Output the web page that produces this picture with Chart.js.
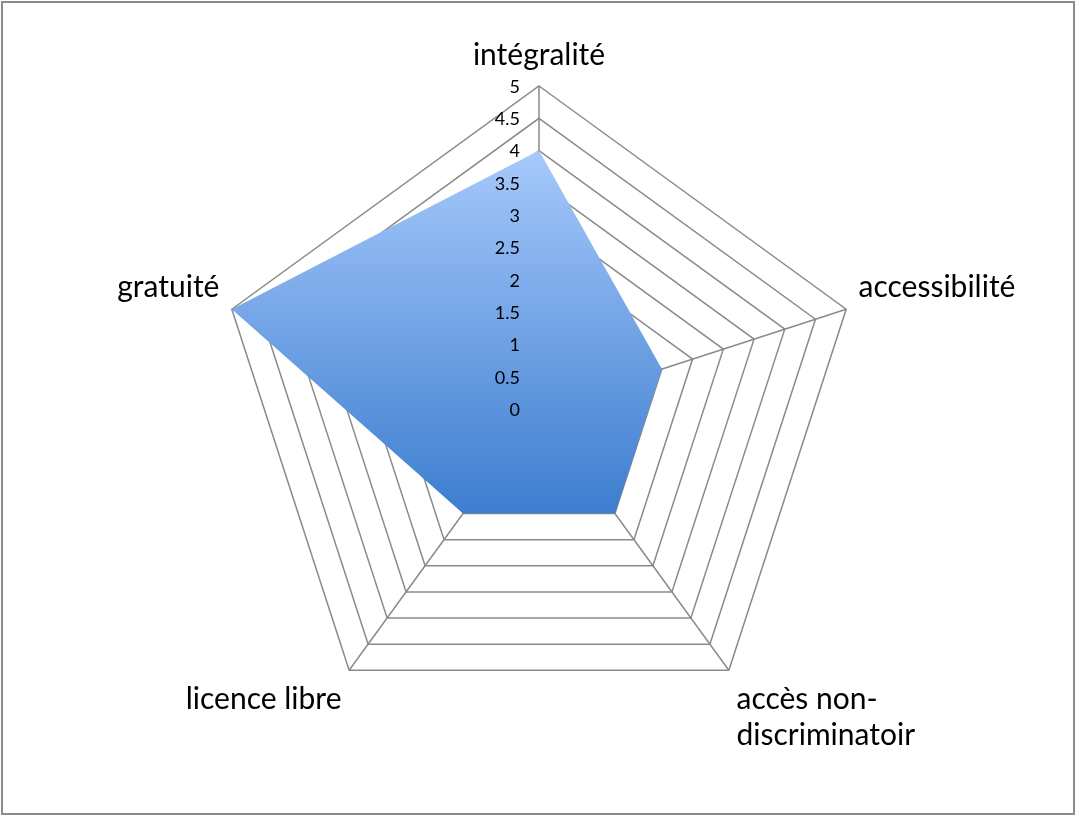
<!DOCTYPE html>
<html><head><meta charset="utf-8">
<script src="https://cdn.jsdelivr.net/npm/chart.js@4.4.1/dist/chart.umd.min.js"></script>
<style>
html,body{margin:0;padding:0;background:#fff;}
#wrap{position:absolute;left:0;top:0;width:1076px;height:816px;}
#frame{position:absolute;left:1px;top:1px;width:1070px;height:810px;border:2px solid #8c8c8c;pointer-events:none;}
</style></head>
<body>
<div id="wrap"><canvas id="c" width="1076" height="816"></canvas></div>
<div id="frame"></div>
<script>
const categories = ['intégralité', 'accessibilité', ['accès non-', 'discriminatoir'], 'licence libre', 'gratuité'];
const values = [4, 2, 2, 2, 5];
const tickMin = 0, tickMax = 5, tickStep = 0.5;

const gridColor = '#8a8a8a';

const tickLabelPlugin = {
  id: 'leftTicks',
  afterDraw(chart) {
    const s = chart.scales.r, ctx = chart.ctx;
    ctx.save();
    ctx.font = '18px Lato, "Open Sans", sans-serif';
    ctx.fillStyle = '#000';
    ctx.textAlign = 'right';
    ctx.textBaseline = 'middle';
    s.ticks.forEach(t => {
      const d = s.getDistanceFromCenterForValue(t.value);
      ctx.fillText(String(t.value), s.xCenter - 19, s.yCenter - d + 1);
    });
    ctx.restore();
  }
};
const shadowPlugin = {
  id: 'shadow',
  beforeDatasetDraw(chart) {
    const ctx = chart.ctx;
    ctx.save();
    ctx.shadowColor = 'rgba(0,0,0,0.35)';
    ctx.shadowBlur = 5;
    ctx.shadowOffsetX = 2;
    ctx.shadowOffsetY = 3;
  },
  afterDatasetDraw(chart) { chart.ctx.restore(); }
};

new Chart(document.getElementById('c'), {
  type: 'radar',
  data: {
    labels: categories,
    datasets: [{
      data: values,
      fill: true,
      borderWidth: 0,
      borderColor: 'rgba(0,0,0,0)',
      pointRadius: 0,
      backgroundColor(ctx) {
        const chart = ctx.chart, s = chart.scales.r;
        if (!s || !s.drawingArea) return '#6fa0e6';
        const g = chart.ctx.createLinearGradient(0, s.yCenter - s.drawingArea * 0.8, 0, s.yCenter + s.drawingArea * 0.33);
        g.addColorStop(0, '#a6c9fb');
        g.addColorStop(1, '#3c7dcf');
        return g;
      }
    }]
  },
  options: {
    responsive: false,
    animation: false,
    layout: { padding: { top: 20, bottom: 52, left: 2, right: 0 } },
    plugins: { legend: { display: false }, tooltip: { enabled: false } },
    scales: {
      r: {
        min: tickMin, max: tickMax,
        ticks: { stepSize: tickStep, display: false },
        grid: { color: gridColor, lineWidth: 1.5 },
        angleLines: { color: gridColor, lineWidth: 1.5 },
        pointLabels: { color: '#000', font: { family: 'Lato, "Open Sans", sans-serif', size: 30 }, padding: 13 }
      }
    }
  },
  plugins: [shadowPlugin, tickLabelPlugin]
});
</script>
</body></html>
